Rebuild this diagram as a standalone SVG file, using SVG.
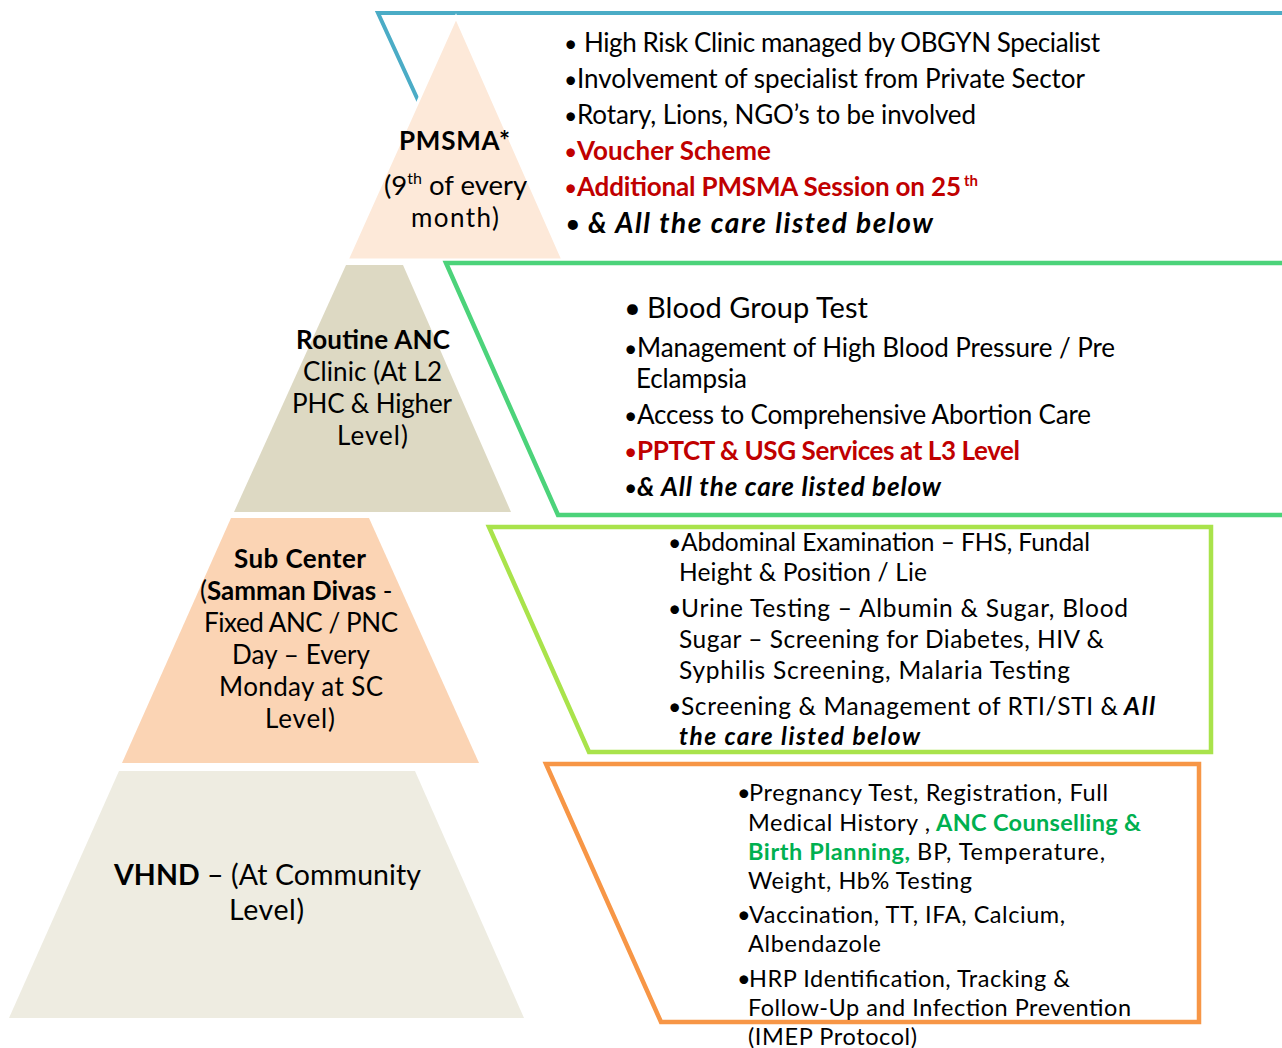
<svg xmlns="http://www.w3.org/2000/svg" width="1282" height="1048" viewBox="0 0 1282 1048">
<style>
text{font-family:Lato,"Liberation Sans",sans-serif;fill:#000}
.b{font-weight:bold}
.i{font-style:italic}
.r{fill:#c00000}
.g{fill:#00b050}
.s25{font-size:26px}
.s23{font-size:24.5px}
.s22{font-size:23.5px}
.bu{font-size:23px}
.box{fill:#fff;stroke-width:4.5;stroke-linejoin:miter}
</style>
<rect width="1282" height="1048" fill="#fff"/>

<g id="box-pmsma">
<path d="M1290,13 H378 L495,268" fill="#fff" stroke="#4bacc6" stroke-width="4"/>
</g>
<g id="level-pmsma">
<polygon points="456,17 563,260 347,260" fill="#fde9d9" stroke="#fff" stroke-width="3"/>
<text class="s25 b" x="399" y="150" textLength="111">PMSMA*</text>
<text x="384" y="195" font-size="27.5">(9<tspan font-size="16" dy="-11">th</tspan><tspan dy="11"> of every</tspan></text>
<text class="s25" x="411" y="227" textLength="88">month)</text>
</g>
<g id="list-pmsma">
<text class="bu" x="564" y="52">•</text>
<text class="s25" x="584" y="52" textLength="516">High Risk Clinic managed by OBGYN Specialist</text>
<text class="bu" x="564" y="88">•</text>
<text class="s25" x="577" y="88" textLength="508">Involvement of specialist from Private Sector</text>
<text class="bu" x="564" y="124">•</text>
<text class="s25" x="577" y="124" textLength="399">Rotary, Lions, NGO’s to be involved</text>
<text class="bu r" x="564" y="160">•</text>
<text class="s25 b r" x="577" y="160" textLength="194">Voucher Scheme</text>
<text class="bu r" x="564" y="196">•</text>
<text class="s25 b r" x="577" y="196" textLength="384">Additional PMSMA Session on 25</text>
<text class="b r" x="964" y="186" font-size="15">th</text>
<text x="565" y="233" font-size="27">•</text>
<text class="b i" x="588" y="233" font-size="28" textLength="345">&amp; All the care listed below</text>
</g>

<g id="box-routine">
<path class="box" d="M1290,263 H446 L558,515 H1290" stroke="#4cd37a"/>
</g>
<g id="level-routine">
<polygon points="346,265 403,265 511,512 234,512" fill="#ddd9c3"/>
<text class="s25 b" x="296" y="349" textLength="154">Routine ANC</text>
<text class="s25" x="303" y="381" textLength="139">Clinic (At L2</text>
<text class="s25" x="292" y="413" textLength="160">PHC &amp; Higher</text>
<text class="s25" x="337" y="445" textLength="71">Level)</text>
</g>
<g id="list-routine">
<text x="624" y="318" font-size="29">•</text>
<text x="647" y="318" font-size="29" textLength="221">Blood Group Test</text>
<text class="bu" x="624" y="357">•</text>
<text class="s25" x="637" y="357" textLength="478">Management of High Blood Pressure / Pre</text>
<text class="s25" x="636" y="388" textLength="111">Eclampsia</text>
<text class="bu" x="624" y="424">•</text>
<text class="s25" x="637" y="424" textLength="454">Access to Comprehensive Abortion Care</text>
<text class="bu r" x="624" y="460">•</text>
<text class="s25 b r" x="637" y="460" textLength="383">PPTCT &amp; USG Services at L3 Level</text>
<text class="bu" x="624" y="496">•</text>
<text class="s25 b i" x="637" y="496" textLength="304">&amp; All the care listed below</text>
</g>

<g id="box-subcenter">
<polygon class="box" points="489,527 1211,527 1211,752 589,752" stroke="#a9e34b"/>
</g>
<g id="level-subcenter">
<polygon points="231,518 369,518 479,763 122,763" fill="#fbd4b4"/>
<text class="s25 b" x="234" y="568" textLength="132">Sub Center</text>
<text class="s25" x="200" y="600">(<tspan class="b">Samman Divas</tspan> -</text>
<text class="s25" x="204" y="632" textLength="194">Fixed ANC / PNC</text>
<text class="s25" x="232" y="664" textLength="138">Day – Every</text>
<text class="s25" x="219" y="696" textLength="164">Monday at SC</text>
<text class="s25" x="265" y="728" textLength="70">Level)</text>
</g>
<g id="list-subcenter">
<text class="bu" x="668" y="551">•</text>
<text class="s23" x="681" y="551" textLength="409">Abdominal Examination – FHS, Fundal</text>
<text class="s23" x="679" y="581" textLength="248">Height &amp; Position / Lie</text>
<text class="bu" x="668" y="617">•</text>
<text class="s23" x="681" y="617" textLength="447">Urine Testing – Albumin &amp; Sugar, Blood</text>
<text class="s23" x="679" y="648" textLength="425">Sugar – Screening for Diabetes, HIV &amp;</text>
<text class="s23" x="679" y="679" textLength="391">Syphilis Screening, Malaria Testing</text>
<text class="bu" x="668" y="715">•</text>
<text class="s23" x="681" y="715" textLength="437">Screening &amp; Management of RTI/STI &amp;</text>
<text class="s23 b i" x="1124" y="715" textLength="31">All</text>
<text class="s23 b i" x="679" y="745" textLength="241">the care listed below</text>
</g>

<g id="box-vhnd">
<polygon class="box" points="546,764 1199,764 1199,1022 661,1022" stroke="#f79646"/>
</g>
<g id="level-vhnd">
<polygon points="119,771 415,771 524,1018 9,1018" fill="#eeece1"/>
<text x="114" y="885" font-size="28.5" textLength="307"><tspan class="b">VHND</tspan> – (At Community</text>
<text x="229" y="920" font-size="28.5" textLength="75">Level)</text>
</g>
<g id="list-vhnd">
<text class="s22" x="737" y="801">•</text>
<text class="s22" x="749" y="801" textLength="359">Pregnancy Test, Registration, Full</text>
<text class="s22" x="748" y="831" textLength="182">Medical History ,</text>
<text class="s22 b g" x="936" y="831" textLength="205">ANC Counselling &amp;</text>
<text class="s22 b g" x="748" y="860" textLength="162">Birth Planning,</text>
<text class="s22" x="917" y="860" textLength="188">BP, Temperature,</text>
<text class="s22" x="748" y="889" textLength="224">Weight, Hb% Testing</text>
<text class="s22" x="737" y="923">•</text>
<text class="s22" x="749" y="923" textLength="316">Vaccination, TT, IFA, Calcium,</text>
<text class="s22" x="748" y="952" textLength="133">Albendazole</text>
<text class="s22" x="737" y="987">•</text>
<text class="s22" x="749" y="987" textLength="321">HRP Identification, Tracking &amp;</text>
<text class="s22" x="748" y="1016" textLength="383">Follow-Up and Infection Prevention</text>
<text class="s22" x="748" y="1045" textLength="169">(IMEP Protocol)</text>
</g>
</svg>
